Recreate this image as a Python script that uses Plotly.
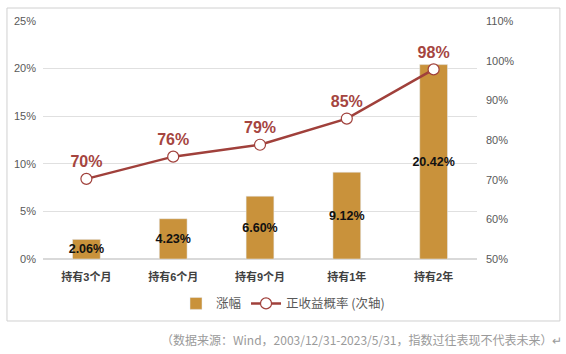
import plotly.graph_objects as go

categories = ["持有3个月", "持有6个月", "持有9个月", "持有1年", "持有2年"]
rise = [2.06, 4.23, 6.60, 9.12, 20.42]
prob = [70.2, 75.8, 78.8, 85.4, 97.8]
rise_labels = ["2.06%", "4.23%", "6.60%", "9.12%", "20.42%"]
prob_labels = ["70%", "76%", "79%", "85%", "98%"]
y1_ticks = [0, 5, 10, 15, 20, 25]
y2_ticks = [50, 60, 70, 80, 90, 100, 110]

FONT = "Liberation Sans, Noto Sans CJK SC, sans-serif"
BAR_C = "#C9923B"
LINE_C = "#A0403B"

fig = go.Figure()
fig.add_trace(go.Bar(
    x=categories, y=rise, name="涨幅", marker_color=BAR_C,
    text=rise_labels, textposition="inside", insidetextanchor="middle",
    textangle=0, constraintext="none",
    insidetextfont=dict(family=FONT, size=12.5, color="#111111", weight="bold"),
))
fig.add_trace(go.Scatter(
    x=categories, y=prob, name="正收益概率 (次轴)", yaxis="y2",
    mode="lines+markers+text", text=prob_labels, textposition="top center",
    line=dict(color=LINE_C, width=2.5),
    marker=dict(size=11, color="white", line=dict(color=LINE_C, width=1.2)),
    textfont=dict(family=FONT, size=16, color="#A5453F", weight="bold"),
))

fig.update_layout(
    width=566, height=354,
    margin=dict(l=43, r=89, t=21, b=95),
    paper_bgcolor="white", plot_bgcolor="white",
    bargap=0.68,
    font=dict(family=FONT, color="#595959", size=11),
    showlegend=True,
    legend=dict(orientation="h", x=0.553, xanchor="center", y=-0.125, yanchor="top",
                font=dict(family="Noto Sans CJK SC, sans-serif", size=12.5, color="#595959"),
                itemwidth=30, traceorder="normal"),
    xaxis=dict(showgrid=False, showline=False, zeroline=False, ticklabelstandoff=10,
               tickfont=dict(family=FONT, size=11, color="#404040", weight="bold")),
    yaxis=dict(range=[0, 25], tickvals=y1_ticks, ticktext=[f"{v}%" for v in y1_ticks],
               showgrid=True, gridcolor="#E0E0E0", gridwidth=1, zeroline=True,
               zerolinecolor="#D9D9D9", showline=False, ticklabelstandoff=6),
    yaxis2=dict(range=[50, 110], tickvals=y2_ticks, ticktext=[f"{v}%" for v in y2_ticks],
                overlaying="y", side="right", showgrid=False, zeroline=False,
                showline=False, ticklabelstandoff=8),
    shapes=[dict(type="rect", xref="paper", yref="paper",
                 x0=-0.083, x1=1.191, y0=-0.2605, y1=1.0546,
                 line=dict(color="#D0D0D0", width=1), fillcolor="rgba(0,0,0,0)")],
    annotations=[dict(text="（数据来源：Wind，2003/12/31-2023/5/31，指数过往表现不代表未来）↵",
                      xref="paper", yref="paper", x=1.2, y=-0.34, xanchor="right",
                      yanchor="middle", showarrow=False,
                      font=dict(family="Noto Sans CJK SC, sans-serif", size=12, color="#9A9A9A"))],
)

fig.write_html("out.html")
